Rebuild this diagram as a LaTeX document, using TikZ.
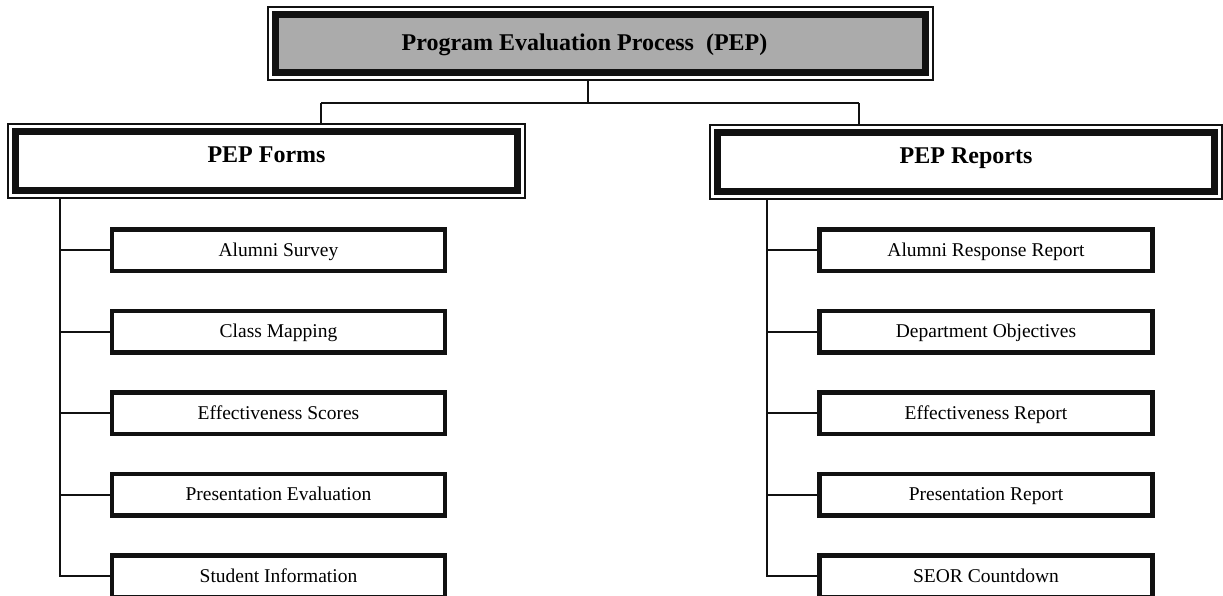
\documentclass[tikz,border=0pt]{standalone}
\usepackage{fontspec}
\setmainfont{Liberation Serif}
\usetikzlibrary{positioning}
\definecolor{InkLine}   {HTML}{111111}
\definecolor{ScreenGray}{HTML}{ABABAB}
\definecolor{PaperWhite}{HTML}{FFFFFF}

\begin{document}
\begin{tikzpicture}[x=1pt, y=-1pt,
  node distance=35.5pt,
  inset/.style={path picture={
      \fill[#1] ([shift={(7.5pt,-7.5pt)}]path picture bounding box.north west)
        rectangle ([shift={(-7.5pt,7.5pt)}]path picture bounding box.south east);
      \draw[InkLine, line width=7pt]
        ([shift={(7.5pt,-7.5pt)}]path picture bounding box.north west)
        rectangle ([shift={(-7.5pt,7.5pt)}]path picture bounding box.south east);}},
  headbox/.style={draw=InkLine, line width=1.2pt, inset=ScreenGray,
               minimum width=665pt, minimum height=73pt, inner sep=0pt,
               font=\fontsize{24}{28}\selectfont\bfseries,
               text height=15.8pt, text depth=2pt},
  groupbox/.style={draw=InkLine, line width=1.2pt, inset=PaperWhite,
               minimum height=74pt, inner sep=0pt,
               font=\fontsize{24}{28}\selectfont\bfseries,
               text height=17pt, text depth=15pt},
  itembox/.style={draw=InkLine, line width=4.5pt, fill=PaperWhite,
               minimum width=333pt, minimum height=41.5pt, inner sep=0pt,
               font=\fontsize{19.5}{23}\selectfont,
               text height=12.9pt, text depth=0pt},
  link/.style={draw=InkLine, line width=2pt},
]
  \useasboundingbox (0,0) rectangle (1223,595);

  \node[headbox] (pep) at (600.5,43.5)
    {Program Evaluation Process~ (PEP)\kern32pt};
  \node[groupbox, minimum width=517pt] (forms)   at (266.5,161) {PEP Forms};
  \node[groupbox, minimum width=512pt] (reports) at (966,162)   {PEP Reports};

  % forms column
  \node[itembox] (fa) at (278.5,250) {Alumni Survey};
  \node[itembox, below=of fa] (fb) {Class Mapping};
  \node[itembox, below=of fb] (fc) {Effectiveness Scores};
  \node[itembox, below=of fc] (fd) {Presentation Evaluation};
  \node[itembox, below=of fd] (fe) {Student Information};

  % reports column
  \node[itembox] (ra) at (986,250) {Alumni Response Report};
  \node[itembox, below=of ra] (rb) {Department Objectives};
  \node[itembox, below=of rb] (rc) {Effectiveness Report};
  \node[itembox, below=of rc] (rd) {Presentation Report};
  \node[itembox, below=of rd] (re) {SEOR Countdown};

  % top split
  \coordinate (split) at (588,103);
  \coordinate (fdrop) at (321,103);
  \coordinate (rdrop) at (859,103);
  \draw[link] (pep.south -| split) -- (split);
  \draw[link] (fdrop) -- (rdrop);
  \draw[link] (fdrop) -- (fdrop |- forms.north);
  \draw[link] (rdrop) -- (rdrop |- reports.north);

  % trunks
  \coordinate (ftrunk) at (60,0);
  \coordinate (rtrunk) at (767,0);
  \foreach \c in {fa,fb,fc,fd,fe}
    \draw[link] (forms.south -| ftrunk) |- (\c.west);
  \foreach \c in {ra,rb,rc,rd,re}
    \draw[link] (reports.south -| rtrunk) |- (\c.west);
\end{tikzpicture}
\end{document}
